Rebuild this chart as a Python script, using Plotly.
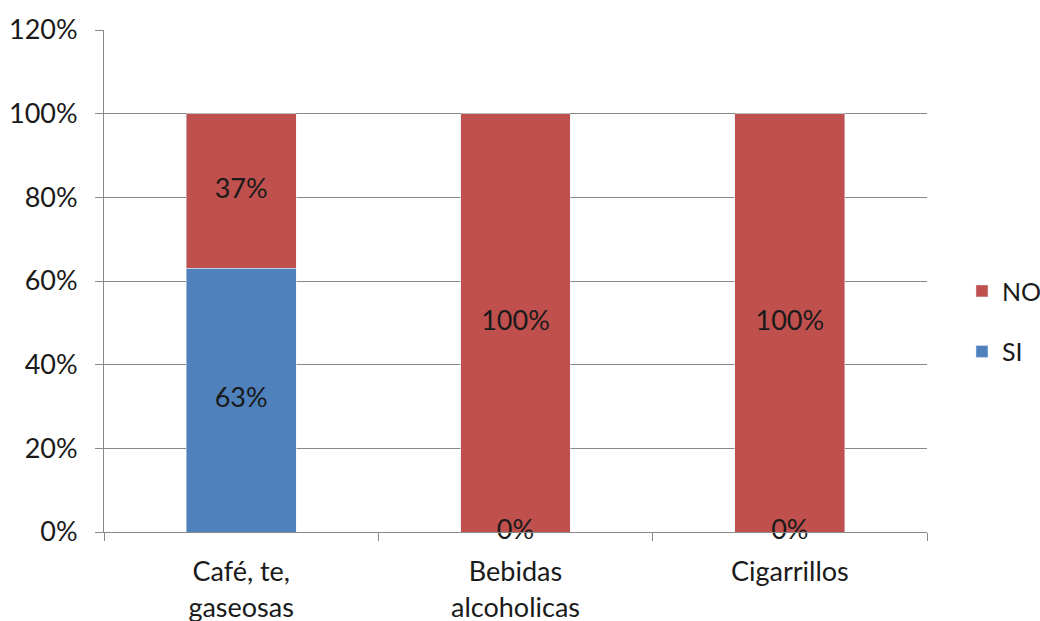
import plotly.graph_objects as go

# Survey responses by product category (percent)
categories = ["Café, te,<br>gaseosas", "Bebidas<br>alcoholicas", "Cigarrillos"]
si_values = [63, 0, 0]
no_values = [37, 100, 100]
y_ticks = [0, 20, 40, 60, 80, 100, 120]

BLUE = "#4F81BD"
RED = "#C0504D"
FONT = "Lato, 'Open Sans', sans-serif"
TEXT_COLOR = "#1a1a1a"
FS = 27

fig = go.Figure()

fig.add_trace(go.Bar(
    x=categories, y=si_values, name="SI", marker_color=BLUE,
    width=0.4, legendgroup="si", legendrank=2,
))
fig.add_trace(go.Bar(
    x=categories, y=no_values, name="NO", marker_color=RED,
    width=0.4, legendgroup="no", legendrank=1,
))

# Value labels centred in each stacked segment
si_mid = [v / 2 for v in si_values]
no_mid = [s + n / 2 for s, n in zip(si_values, no_values)]
fig.add_trace(go.Scatter(
    x=categories, y=si_mid, mode="text",
    text=[f"{v}%" for v in si_values],
    textfont=dict(family=FONT, size=FS, color=TEXT_COLOR),
    showlegend=False, hoverinfo="skip", cliponaxis=False,
))
fig.add_trace(go.Scatter(
    x=categories, y=no_mid, mode="text",
    text=[f"{v}%" for v in no_values],
    textfont=dict(family=FONT, size=FS, color=TEXT_COLOR),
    showlegend=False, hoverinfo="skip", cliponaxis=False,
))

fig.update_layout(
    barmode="stack",
    width=1040, height=621,
    margin=dict(l=104, r=113, t=30, b=89, autoexpand=False),
    paper_bgcolor="white", plot_bgcolor="white",
    font=dict(family=FONT, size=FS, color=TEXT_COLOR),
    legend=dict(
        x=1.0425, y=0.42, xanchor="left", yanchor="middle",
        font=dict(size=25), tracegroupgap=25,
        itemwidth=30, bgcolor="rgba(0,0,0,0)",
    ),
    xaxis=dict(
        type="category", tickson="boundaries", ticks="outside",
        ticklen=8, tickcolor="#888888", showline=True, linecolor="#888888",
        showgrid=False, ticklabelstandoff=16,
    ),
    yaxis=dict(
        range=[0, 120], tickvals=y_ticks,
        ticktext=[f"{v}%" for v in y_ticks],
        ticks="outside", ticklen=8, tickcolor="#888888",
        showline=True, linecolor="#888888", showgrid=True,
        gridcolor="#888888", gridwidth=1, zeroline=False,
        ticklabelstandoff=12,
    ),
)

fig.write_html("out.html")
